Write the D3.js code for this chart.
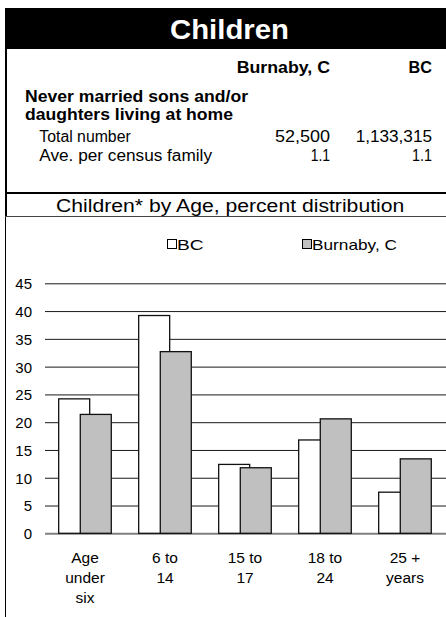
<!DOCTYPE html>
<html>
<head>
<meta charset="utf-8">
<script src="https://cdn.jsdelivr.net/npm/d3@7/dist/d3.min.js"></script>
<style>
  html, body { margin: 0; padding: 0; background: #fff; }
  svg { display: block; font-family: "Liberation Sans", Arial, sans-serif; }
</style>
</head>
<body>
<svg id="chart" width="446" height="617"></svg>
<script>
// ---- data ----
const categories = [["Age", "under", "six"], ["6 to", "14"], ["15 to", "17"], ["18 to", "24"], ["25 +", "years"]];
const seriesNames = ["BC", "Burnaby, C"];
const bcValues = [24.2, 39.2, 12.4, 16.8, 7.4];
const burnabyValues = [21.4, 32.7, 11.8, 20.6, 13.4];
const yTicks = [0, 5, 10, 15, 20, 25, 30, 35, 40, 45];
const tableColumns = ["Burnaby, C", "BC"];
const tableHeading = ["Never married sons and/or", "daughters living at home"];
const tableRowLabels = ["Total number", "Ave. per census family"];
const tableBurnaby = ["52,500", "1.1"];
const tableBC = ["1,133,315", "1.1"];

const svg = d3.select("#chart");

// helper: text fitted to a measured width
function fitText(x, y, str, size, weight, width, fill) {
  const t = svg.append("text")
    .attr("x", x).attr("y", y)
    .attr("font-size", size)
    .attr("font-weight", weight || "normal")
    .attr("fill", fill || "#000")
    .text(str);
  if (width) t.attr("textLength", width).attr("lengthAdjust", "spacingAndGlyphs");
  return t;
}

// ---- header ----
svg.append("rect").attr("x", 5).attr("y", 8).attr("width", 441).attr("height", 41).attr("fill", "#000");
fitText(170, 38.5, "Children", 28.5, "bold", 119, "#fff");

// frame lines
svg.append("line").attr("x1", 6).attr("x2", 6).attr("y1", 49).attr("y2", 217).attr("stroke", "#000").attr("stroke-width", 2);
svg.append("line").attr("x1", 5.5).attr("x2", 5.5).attr("y1", 217).attr("y2", 617).attr("stroke", "#000").attr("stroke-width", 1);
svg.append("line").attr("x1", 5).attr("x2", 446).attr("y1", 193).attr("y2", 193).attr("stroke", "#000").attr("stroke-width", 2);
svg.append("line").attr("x1", 5).attr("x2", 446).attr("y1", 216.5).attr("y2", 216.5).attr("stroke", "#444").attr("stroke-width", 1);

// ---- table ----
const colRight = [330, 432];
const colWidths = [93.3, 23.4];
tableColumns.forEach((c, i) => fitText(colRight[i] - colWidths[i], 72.5, c, 16.5, "bold", colWidths[i]));
const headWidths = [223, 208];
const headY = [101.7, 119.5];
tableHeading.forEach((h, i) => fitText(25, headY[i], h, 16.5, "bold", headWidths[i]));
const rowY = [141.7, 161];
const rowLabelWidths = [91.4, 172.7];
tableRowLabels.forEach((r, i) => fitText(39.3, rowY[i], r, 16, "normal", rowLabelWidths[i]));
const burnWidths = [55, 19.3];
const bcWidths = [76.3, 20];
tableBurnaby.forEach((v, i) => fitText(colRight[0] - burnWidths[i], rowY[i], v, 16, "normal", burnWidths[i]));
tableBC.forEach((v, i) => fitText(colRight[1] - bcWidths[i], rowY[i], v, 16, "normal", bcWidths[i]));

// ---- chart title ----
fitText(56, 211.5, "Children* by Age, percent distribution", 18, "normal", 348.3);

// ---- legend ----
const fills = ["#ffffff", "#c0c0c0"];
const legX = [167, 302];
const legW = [26.6, 85];
seriesNames.forEach((s, i) => {
  svg.append("rect").attr("x", legX[i] + 0.5).attr("y", 239.5).attr("width", 9).attr("height", 9)
    .attr("fill", fills[i]).attr("stroke", "#000").attr("stroke-width", 1);
  fitText(legX[i] + 10, 250, s, 15, "normal", legW[i]);
});

// ---- plot ----
const plotLeft = 45, plotRight = 445, plotTop = 283.3, plotBottom = 533.3;
const x0 = d3.scaleBand().domain(d3.range(categories.length)).range([plotLeft, plotRight]).padding(0);
const bw = x0.bandwidth();
const x1 = d3.scaleBand().domain(seriesNames).range([bw * 0.171, bw * 0.171 + bw * 0.54]).padding(0);
const barW = bw * 0.3875;
const y = d3.scaleLinear().domain([0, 45]).range([plotBottom, plotTop]);

// gridlines + y labels
const yAxis = d3.axisLeft(y).tickValues(yTicks).tickSize(-(446 - plotLeft)).tickPadding(13).tickFormat(d3.format("d"));
const gy = svg.append("g").attr("transform", `translate(${plotLeft},0)`).call(yAxis);
gy.select(".domain").remove();
gy.selectAll(".tick line").attr("stroke", "#1a1a1a").attr("stroke-width", 1);
gy.selectAll(".tick").filter(d => d === 0).select("line").attr("stroke", "#808080").attr("stroke-width", 2);
gy.selectAll(".tick text").attr("font-size", 15).attr("fill", "#000")
  .attr("font-family", "'Liberation Sans', Arial, sans-serif").attr("dy", "0.36em");

// bars
const seriesValues = [bcValues, burnabyValues];
seriesValues.forEach((vals, si) => {
  svg.append("g").selectAll("rect").data(vals).join("rect")
    .attr("x", (d, i) => x0(i) + x1(seriesNames[si]))
    .attr("y", d => y(d))
    .attr("width", barW)
    .attr("height", d => y(0) - y(d))
    .attr("fill", fills[si])
    .attr("stroke", "#111")
    .attr("stroke-width", 1.3);
});

// x labels
const gx = svg.append("g");
categories.forEach((lines, i) => {
  const t = gx.append("text").attr("text-anchor", "middle").attr("font-size", 15.5).attr("fill", "#000");
  lines.forEach((ln, j) => {
    t.append("tspan").attr("x", x0(i) + bw / 2).attr("y", 563.3 + j * 20).text(ln);
  });
});
</script>
</body>
</html>
